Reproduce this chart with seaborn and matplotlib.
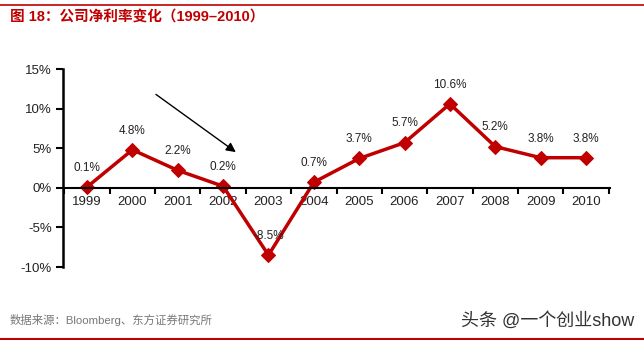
import matplotlib
matplotlib.use("Agg")
import matplotlib.pyplot as plt
import seaborn as sns
import numpy as np
from matplotlib.lines import Line2D
from matplotlib.ticker import FixedLocator, PercentFormatter

years = ["1999", "2000", "2001", "2002", "2003", "2004", "2005", "2006", "2007", "2008", "2009", "2010"]
margin = [0.1, 4.8, 2.2, 0.2, -8.5, 0.7, 3.7, 5.7, 10.6, 5.2, 3.8, 3.8]
labels = ["0.1%", "4.8%", "2.2%", "0.2%", "-8.5%", "0.7%", "3.7%", "5.7%", "10.6%", "5.2%", "3.8%", "3.8%"]
yticks = [-10, -5, 0, 5, 10, 15]

sns.set_style("white")
plt.rcParams['font.family'] = ['Liberation Sans', 'Noto Sans CJK SC', 'DejaVu Sans']
plt.rcParams['axes.unicode_minus'] = False

fig = plt.figure(figsize=(6.44, 3.40), dpi=100)
ax = fig.add_axes([63/644, 1-267/340, (610-63)/644, (267-69)/340])

red = "#C00000"
pos = np.arange(len(years))
sns.lineplot(x=pos, y=margin, ax=ax, color=red, linewidth=2.5, marker="D",
             markersize=7, markeredgecolor=red, markerfacecolor=red)

for x, y, t in zip(pos, margin, labels):
    ax.annotate(t, (x, y), xytext=(0, 9.5), textcoords="offset points",
                ha="center", va="bottom", fontsize=8.5, color="#222222")

ax.set_xlim(-0.53, len(years) - 0.47)
ax.set_ylim(-10, 15)
ax.set_yticks(yticks)
ax.yaxis.set_major_formatter(PercentFormatter(decimals=0))
ax.set_xticks(pos)
ax.set_xticklabels(years)
ax.xaxis.set_minor_locator(FixedLocator(np.arange(len(years) + 1) - 0.5))

for s in ["top", "right"]:
    ax.spines[s].set_visible(False)
ax.spines["bottom"].set_position(("data", 0))
ax.spines["bottom"].set_color("black")
ax.spines["bottom"].set_linewidth(1.5)
ax.spines["left"].set_color("black")
ax.spines["left"].set_linewidth(1.8)

ax.tick_params(axis="y", which="major", direction="out", length=5, width=1.5,
               labelsize=9.5, colors="black", left=True, pad=3)
ax.tick_params(axis="y", labelcolor="#222222")
ax.tick_params(axis="x", which="major", length=0, labelsize=9.5, pad=6, labelcolor="#222222")
ax.tick_params(axis="x", which="minor", direction="out", length=4, width=1.5, colors="black", bottom=True)
ax.set_xlabel("")
ax.set_ylabel("")

ax.annotate("", xy=(3.33, 4.3), xytext=(1.47, 12.0),
            arrowprops=dict(arrowstyle="-|>", color="black", lw=1.0, mutation_scale=14))

fig.add_artist(Line2D([0, 1], [1 - 5/340, 1 - 5/340], color=red, lw=1.2))
fig.add_artist(Line2D([0, 1], [1 - 339/340, 1 - 339/340], color=red, lw=1.5))

fig.text(10/644, 1 - 18/340, "图 18：公司净利率变化（1999–2010）", color=red, fontsize=10.5,
         fontweight="bold", va="center", ha="left")
fig.text(10/644, 1 - 320/340, "数据来源：Bloomberg、东方证券研究所", color="#777777", fontsize=8.2,
         va="center", ha="left")
fig.text(634/644, 1 - 321/340, "头条 @一个创业show", color="#333333", fontsize=13,
         va="center", ha="right")

fig.savefig("out.png", dpi=100, facecolor="white")
